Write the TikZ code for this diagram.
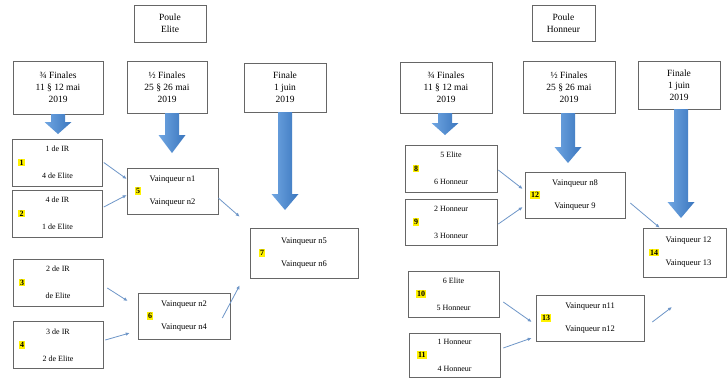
\documentclass[tikz,border=0pt]{standalone}
\usepackage{fontspec}
\setmainfont{Liberation Serif}
\usetikzlibrary{positioning,arrows.meta}

\definecolor{arrowlight}{RGB}{112,166,226}
\definecolor{arrowdark}{RGB}{58,118,190}
\definecolor{linkblue}{RGB}{110,150,200}

\tikzset{
  titlebox/.style={draw=black!60, line width=0.6pt, fill=white, align=center, inner sep=1pt,
    font=\fontsize{9.5}{12}\selectfont},
  teambox/.style={draw=black!60, line width=0.6pt, fill=white, align=center, inner sep=1pt,
    minimum width=90pt, minimum height=47pt, font=\fontsize{8}{27}\selectfont},
  winbox/.style={draw=black!60, line width=0.6pt, fill=white, align=center, inner sep=1pt,
    minimum height=46pt, font=\fontsize{8.5}{23}\selectfont},
  numlab/.style={fill=yellow, inner sep=1.2pt, font=\bfseries\fontsize{8}{9}\selectfont},
  link/.style={linkblue, line width=0.8pt, -{Latex[length=4pt,width=3.5pt]}},
  blockarrow/.style={left color=arrowlight, right color=arrowdark}
}

\begin{document}
\begin{tikzpicture}[x=1pt,y=-1pt]
  \useasboundingbox[fill=white] (0,0) rectangle (727,378);

  % poule elite
  \node[titlebox, minimum width=72pt, minimum height=37pt] (pe) at (170,23.5) {Poule\\Elite};
  \node[titlebox, minimum width=90pt, minimum height=53pt] (q1) at (58,87.5) {¾ Finales\\11 § 12 mai\\2019};
  \node[titlebox, minimum width=80pt, minimum height=52pt] (s1) at (167,87) {½ Finales\\25 § 26 mai\\2019};
  \node[titlebox, minimum width=82pt, minimum height=49pt] (f1) at (285,87.5) {Finale\\1 juin\\2019};

  \node[teambox] (b1) at (57.5,162.5) {1 de IR\\4 de Elite};
  \node[teambox] (b2) at (57.5,213.5) {4 de IR\\1 de Elite};
  \node[teambox] (b3) at (58,282.5) {2 de IR\\de Elite};
  \node[teambox] (b4) at (58,345) {3 de IR\\2 de Elite};
  \node[winbox, minimum width=91pt] (b5) at (172.5,191) {Vainqueur n1\\Vainqueur n2};
  \node[winbox, minimum width=92pt] (b6) at (184,316) {Vainqueur n2\\Vainqueur n4};
  \node[winbox, minimum width=108pt, minimum height=50pt] (b7) at (304,253) {Vainqueur n5\\Vainqueur n6};

  \node[numlab, right=6pt of b1.west] (n1) {1};
  \node[numlab, right=6pt of b2.west] (n2) {2};
  \node[numlab, right=6pt of b3.west] (n3) {3};
  \node[numlab, right=6pt of b4.west] (n4) {4};
  \node[numlab, right=8pt of b5.west] (n5) {5};
  \node[numlab, right=9pt of b6.west] (n6) {6};
  \node[numlab, right=9pt of b7.west] (n7) {7};

  % poule honneur
  \node[titlebox, minimum width=63pt, minimum height=36pt] (ph) at (563.5,23) {Poule\\Honneur};
  \node[titlebox, minimum width=92pt, minimum height=51pt] (q2) at (446,87.5) {¾ Finales\\11 § 12 mai\\2019};
  \node[titlebox, thick, minimum width=92pt, minimum height=52pt] (s2) at (569,87) {½ Finales\\25 § 26 mai\\2019};
  \node[titlebox, minimum width=82pt, minimum height=48pt] (f2) at (679,85) {Finale\\1 juin\\2019};

  \node[teambox, minimum width=92pt] (b8) at (451,168.5) {5 Elite\\6 Honneur};
  \node[teambox, minimum width=92pt, minimum height=46pt] (b9) at (451,222) {2 Honneur\\3 Honneur};
  \node[teambox, minimum width=91pt, minimum height=46pt] (b10) at (453.5,294) {6 Elite\\5 Honneur};
  \node[teambox, minimum width=91pt, minimum height=44pt] (b11) at (454.5,355) {1 Honneur\\4 Honneur};
  \node[winbox, minimum width=100pt] (b12) at (575,195) {Vainqueur n8\\Vainqueur 9};
  \node[winbox, minimum width=108pt] (b13) at (590,318) {Vainqueur n11\\Vainqueur n12};
  \node[winbox, minimum width=83pt, minimum height=49pt] (b14) at (684.5,252.5) {\hspace*{8pt}Vainqueur 12\\\hspace*{8pt}Vainqueur 13};

  \node[numlab, right=8pt of b8.west] (n8) {8};
  \node[numlab, right=8pt of b9.west] (n9) {9};
  \node[numlab, right=8pt of b10.west] (n10) {10};
  \node[numlab, right=8pt of b11.west] (n11) {11};
  \node[numlab, right=5pt of b12.west] (n12) {12};
  \node[numlab, right=5pt of b13.west] (n13) {13};
  \node[numlab, right=6pt of b14.west] (n14) {14};

  \coordinate (c13) at (672,307);

  % big arrows
  \foreach \x/\top/\tip/\hl in {58/114/134/12, 172/113/153/18, 285/112/210/16,
                                 445/113/135/12, 568/113/163/16, 681/109/218/16}
    \shade[blockarrow] ({\x-7},\top) -- ({\x+7},\top) -- ({\x+7},{\tip-\hl})
      -- ({\x+13.5},{\tip-\hl}) -- (\x,\tip) -- ({\x-13.5},{\tip-\hl})
      -- ({\x-7},{\tip-\hl}) -- cycle;

  \draw[link] ([xshift=1pt]b1.east) -- ([yshift=12pt]b5.west);
  \draw[link] ([xshift=1pt,yshift=6.5pt]b2.east) -- ([yshift=-4pt]b5.west);
  \draw[link] ([yshift=-7pt]b5.east) -- ([xshift=-10pt,yshift=11pt]b7.north west);
  \draw[link] ([xshift=4pt,yshift=-5.5pt]b3.east) -- ([xshift=-10pt,yshift=15pt]b6.west);
  \draw[link] ([xshift=2pt,yshift=5pt]b4.east) -- ([xshift=-8pt,yshift=-17pt]b6.west);
  \draw[link] ([xshift=-8pt,yshift=-2pt]b6.east) -- ([xshift=-10pt,yshift=-7pt]b7.south west);

  \draw[link] ([xshift=1pt,yshift=-1.5pt]b8.east) -- ([xshift=-2pt,yshift=6pt]b12.west);
  \draw[link] ([xshift=1pt,yshift=-2pt]b9.east) -- ([xshift=-2pt,yshift=-12pt]b12.west);
  \draw[link] ([xshift=5pt,yshift=-8pt]b12.east) -- ([xshift=17pt]b14.north west);
  \draw[link] ([xshift=4pt,yshift=-8pt]b10.east) -- ([xshift=-4pt,yshift=-4pt]b13.west);
  \draw[link] ([xshift=3pt,yshift=7pt]b11.east) -- ([xshift=-4pt,yshift=-20pt]b13.west);
  \draw[link] ([xshift=8pt,yshift=-4pt]b13.east) -- (c13);
\end{tikzpicture}
\end{document}
